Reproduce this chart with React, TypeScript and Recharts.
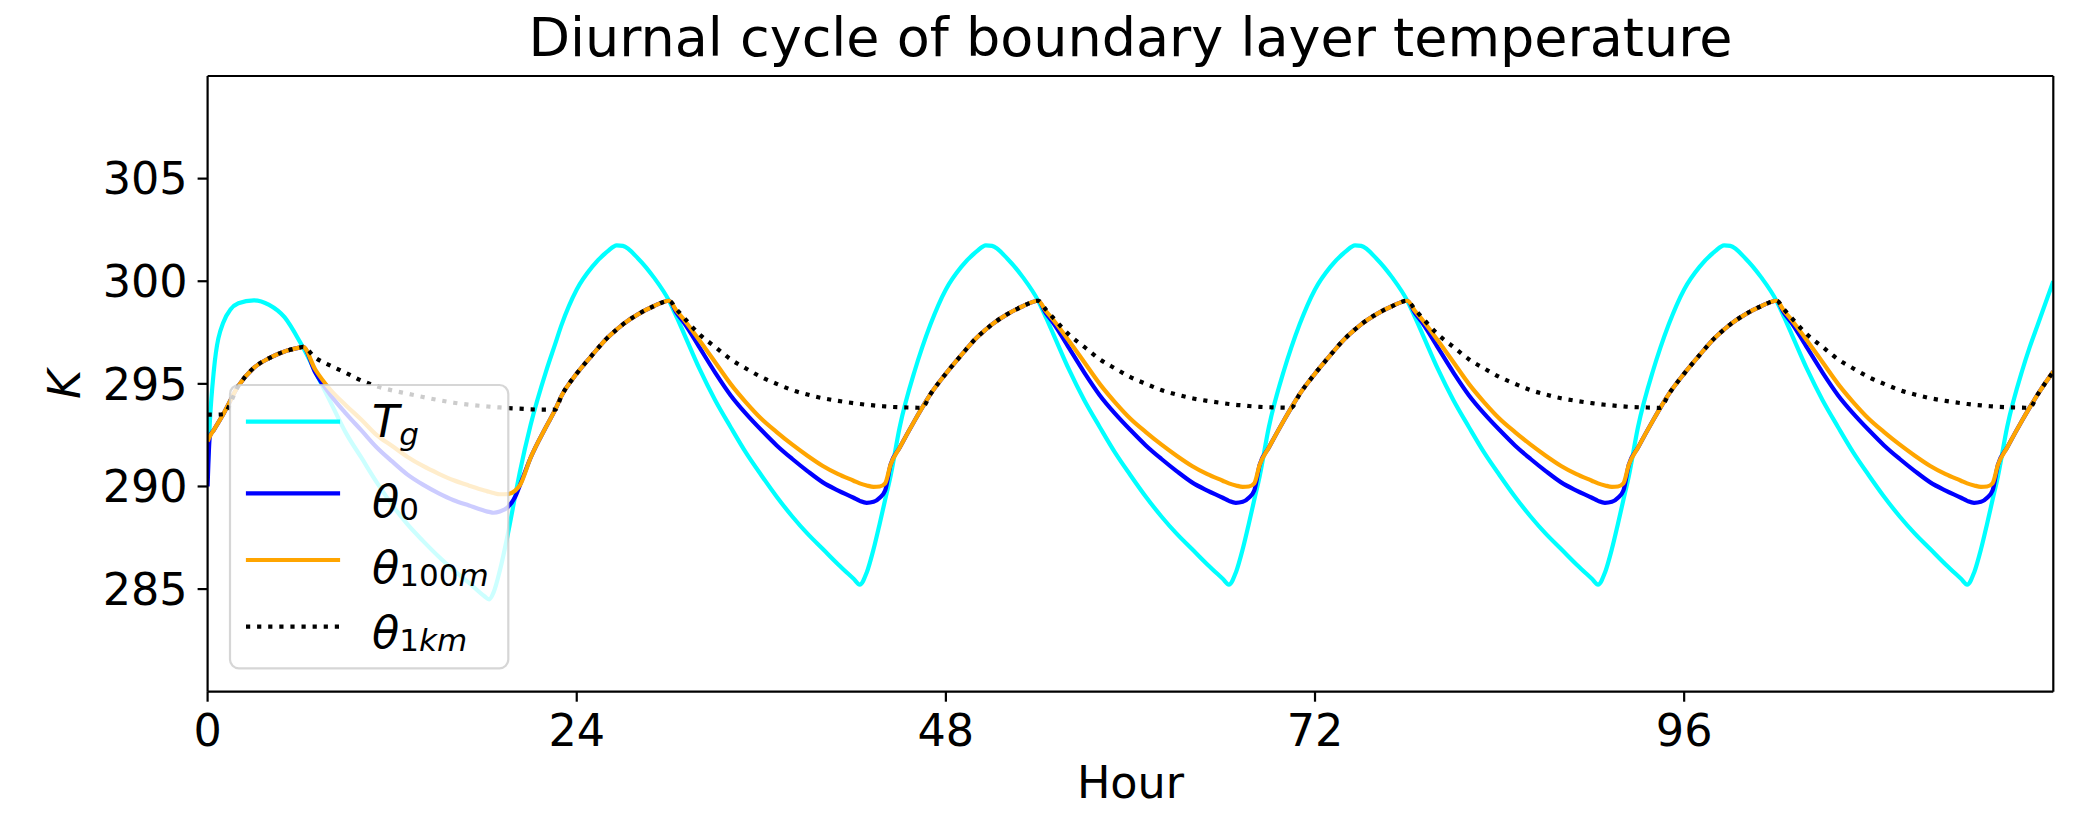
import React from 'react';
import { LineChart, Line, XAxis, YAxis, ReferenceLine } from 'recharts';

// Hour of simulation
const hours = [
  0, 0.15, 0.4, 1, 2, 3, 4, 5, 6, 6.2, 7, 8, 9, 10, 11, 12, 13, 14, 15, 16, 17, 18, 18.3, 18.6, 19, 19.5, 20, 20.3, 21, 22, 22.6, 23,
  24, 25, 26, 26.6, 27, 28, 29, 30, 30.5, 31, 32, 33, 34, 35, 36, 37, 38, 39, 40, 41, 42, 42.4, 42.85, 43.3, 43.7, 44.05, 44.4, 45, 46, 46.45, 47,
  48, 49, 50, 50.6, 51, 52, 53, 54, 54.5, 55, 56, 57, 58, 59, 60, 61, 62, 63, 64, 65, 66, 66.4, 66.85, 67.3, 67.7, 68.05, 68.4, 69, 70, 70.45, 71,
  72, 73, 74, 74.6, 75, 76, 77, 78, 78.5, 79, 80, 81, 82, 83, 84, 85, 86, 87, 88, 89, 90, 90.4, 90.85, 91.3, 91.7, 92.05, 92.4, 93, 94, 94.45, 95,
  96, 97, 98, 98.6, 99, 100, 101, 102, 102.5, 103, 104, 105, 106, 107, 108, 109, 110, 111, 112, 113, 114, 114.4, 114.85, 115.3, 115.7, 116.05, 116.4, 117, 118, 118.45, 119,
  120,
];

// Ground temperature T_g (K)
const tg = [
  290.8, 293.2, 295.6, 297.95, 298.93, 299.07, 298.85, 298.25, 297.05, 296.78, 295.6, 294.1, 292.6, 291.4, 290.2, 289.1, 288.15, 287.35, 286.6, 285.92, 285.3, 284.65, 284.5, 284.85, 285.9, 287.6, 289.55, 290.7, 293.0, 295.6, 296.95, 297.85,
  299.6, 300.7, 301.45, 301.75, 301.72, 301.1, 300.2, 299.05, 298.25, 297.4, 295.7, 294.2, 292.9, 291.65, 290.55, 289.5, 288.55, 287.7, 286.95, 286.2, 285.5, 285.22, 285.8, 286.95, 288.2, 289.35, 290.5, 292.9, 295.7, 296.75, 297.9,
  299.6, 300.7, 301.45, 301.75, 301.72, 301.1, 300.2, 299.05, 298.25, 297.4, 295.7, 294.2, 292.9, 291.65, 290.55, 289.5, 288.55, 287.7, 286.95, 286.2, 285.5, 285.22, 285.8, 286.95, 288.2, 289.35, 290.5, 292.9, 295.7, 296.75, 297.9,
  299.6, 300.7, 301.45, 301.75, 301.72, 301.1, 300.2, 299.05, 298.25, 297.4, 295.7, 294.2, 292.9, 291.65, 290.55, 289.5, 288.55, 287.7, 286.95, 286.2, 285.5, 285.22, 285.8, 286.95, 288.2, 289.35, 290.5, 292.9, 295.7, 296.75, 297.9,
  299.6, 300.7, 301.45, 301.75, 301.72, 301.1, 300.2, 299.05, 298.25, 297.4, 295.7, 294.2, 292.9, 291.65, 290.55, 289.5, 288.55, 287.7, 286.95, 286.2, 285.5, 285.22, 285.8, 286.95, 288.2, 289.35, 290.5, 292.9, 295.7, 296.75, 297.9,
  300.0,
];

// Surface potential temperature theta_0 (K)
const theta0 = [
  290.0, 292.45, 292.75, 293.5, 294.9, 295.78, 296.25, 296.58, 296.77, 296.8, 295.55, 294.45, 293.55, 292.73, 291.9, 291.22, 290.58, 290.09, 289.68, 289.33, 289.07, 288.82, 288.76, 288.72, 288.78, 288.98, 289.5, 290.05, 291.4, 292.9, 293.74, 294.4,
  295.5, 296.4, 297.25, 297.65, 297.9, 298.4, 298.78, 299.05, 298.45, 297.95, 296.75, 295.55, 294.45, 293.55, 292.75, 292.0, 291.35, 290.75, 290.2, 289.8, 289.45, 289.3, 289.2, 289.25, 289.45, 289.8, 291.05, 291.9, 293.25, 293.83, 294.5,
  295.5, 296.4, 297.25, 297.65, 297.9, 298.4, 298.78, 299.05, 298.45, 297.95, 296.75, 295.55, 294.45, 293.55, 292.75, 292.0, 291.35, 290.75, 290.2, 289.8, 289.45, 289.3, 289.2, 289.25, 289.45, 289.8, 291.05, 291.9, 293.25, 293.83, 294.5,
  295.5, 296.4, 297.25, 297.65, 297.9, 298.4, 298.78, 299.05, 298.45, 297.95, 296.75, 295.55, 294.45, 293.55, 292.75, 292.0, 291.35, 290.75, 290.2, 289.8, 289.45, 289.3, 289.2, 289.25, 289.45, 289.8, 291.05, 291.9, 293.25, 293.83, 294.5,
  295.5, 296.4, 297.25, 297.65, 297.9, 298.4, 298.78, 299.05, 298.45, 297.95, 296.75, 295.55, 294.45, 293.55, 292.75, 292.0, 291.35, 290.75, 290.2, 289.8, 289.45, 289.3, 289.2, 289.25, 289.45, 289.8, 291.05, 291.9, 293.25, 293.83, 294.5,
  295.6,
];

// Potential temperature at 100 m (K)
const theta100m = [
  292.2, 292.45, 292.75, 293.5, 294.9, 295.78, 296.25, 296.58, 296.77, 296.8, 295.7, 294.7, 293.95, 293.25, 292.5, 291.97, 291.44, 291.0, 290.63, 290.3, 290.04, 289.8, 289.74, 289.68, 289.62, 289.63, 289.8, 290.05, 291.4, 292.9, 293.74, 294.4,
  295.5, 296.4, 297.25, 297.65, 297.9, 298.4, 298.78, 299.05, 298.55, 298.1, 297.1, 296.05, 295.0, 294.1, 293.3, 292.65, 292.05, 291.5, 291.0, 290.6, 290.28, 290.15, 290.05, 289.98, 290.0, 290.15, 291.05, 291.9, 293.25, 293.83, 294.5,
  295.5, 296.4, 297.25, 297.65, 297.9, 298.4, 298.78, 299.05, 298.55, 298.1, 297.1, 296.05, 295.0, 294.1, 293.3, 292.65, 292.05, 291.5, 291.0, 290.6, 290.28, 290.15, 290.05, 289.98, 290.0, 290.15, 291.05, 291.9, 293.25, 293.83, 294.5,
  295.5, 296.4, 297.25, 297.65, 297.9, 298.4, 298.78, 299.05, 298.55, 298.1, 297.1, 296.05, 295.0, 294.1, 293.3, 292.65, 292.05, 291.5, 291.0, 290.6, 290.28, 290.15, 290.05, 289.98, 290.0, 290.15, 291.05, 291.9, 293.25, 293.83, 294.5,
  295.5, 296.4, 297.25, 297.65, 297.9, 298.4, 298.78, 299.05, 298.55, 298.1, 297.1, 296.05, 295.0, 294.1, 293.3, 292.65, 292.05, 291.5, 291.0, 290.6, 290.28, 290.15, 290.05, 289.98, 290.0, 290.15, 291.05, 291.9, 293.25, 293.83, 294.5,
  295.6,
];

// Potential temperature at 1 km (K)
const theta1km = [
  293.5, 293.5, 293.5, 293.52, 294.9, 295.78, 296.25, 296.58, 296.77, 296.8, 296.28, 295.88, 295.53, 295.16, 294.88, 294.68, 294.52, 294.36, 294.21, 294.08, 293.98, 293.91, 293.89, 293.87, 293.85, 293.82, 293.8, 293.79, 293.76, 293.74, 293.74, 294.4,
  295.5, 296.4, 297.25, 297.65, 297.9, 298.4, 298.78, 299.05, 298.62, 298.2, 297.4, 296.8, 296.2, 295.75, 295.33, 295.0, 294.7, 294.48, 294.3, 294.17, 294.06, 294.02, 293.98, 293.95, 293.92, 293.9, 293.88, 293.86, 293.84, 293.83, 294.5,
  295.5, 296.4, 297.25, 297.65, 297.9, 298.4, 298.78, 299.05, 298.62, 298.2, 297.4, 296.8, 296.2, 295.75, 295.33, 295.0, 294.7, 294.48, 294.3, 294.17, 294.06, 294.02, 293.98, 293.95, 293.92, 293.9, 293.88, 293.86, 293.84, 293.83, 294.5,
  295.5, 296.4, 297.25, 297.65, 297.9, 298.4, 298.78, 299.05, 298.62, 298.2, 297.4, 296.8, 296.2, 295.75, 295.33, 295.0, 294.7, 294.48, 294.3, 294.17, 294.06, 294.02, 293.98, 293.95, 293.92, 293.9, 293.88, 293.86, 293.84, 293.83, 294.5,
  295.5, 296.4, 297.25, 297.65, 297.9, 298.4, 298.78, 299.05, 298.62, 298.2, 297.4, 296.8, 296.2, 295.75, 295.33, 295.0, 294.7, 294.48, 294.3, 294.17, 294.06, 294.02, 293.98, 293.95, 293.92, 293.9, 293.88, 293.86, 293.84, 293.83, 294.5,
  295.6,
];

const xTicks = [0, 24, 48, 72, 96];
const yTicks = [285, 290, 295, 300, 305];
const xDomain = [0, 120];
const yDomain = [280, 310];

const titleText = 'Diurnal cycle of boundary layer temperature';
const xLabelText = 'Hour';
const yLabelText = 'K';

const seriesColors = { tg: '#00ffff', t0: '#0000ff', t100: '#ffa500', t1k: '#000000' };

const data = hours.map((h, i) => ({
  h,
  tg: tg[i],
  t0: theta0[i],
  t100: theta100m[i],
  t1k: theta1km[i],
}));

const FONT = 'DejaVu Sans';
const FS = 44.5;
const SUB = 31;
const LW = 4.2;

export default function App() {
  const tickStyle = { fontSize: FS, fill: '#000', fontFamily: FONT };
  const axisStroke = { stroke: '#000', strokeWidth: 2.2 };
  return (
    <div style={{ position: 'absolute', left: 0, top: 0, width: 2085, height: 813, background: '#fff', overflow: 'hidden' }}>
      <LineChart
        width={2085}
        height={813}
        data={data}
        margin={{ top: 76, right: 31.7, bottom: 61.3, left: 27.6 }}
      >
        <XAxis
          dataKey="h"
          type="number"
          domain={xDomain}
          ticks={xTicks}
          interval={0}
          allowDataOverflow
          height={60}
          tickSize={10}
          tickMargin={13}
          tick={tickStyle}
          axisLine={axisStroke}
          tickLine={axisStroke}
        />
        <YAxis
          type="number"
          domain={yDomain}
          ticks={yTicks}
          interval={0}
          allowDataOverflow
          width={180}
          tickSize={10}
          tickMargin={10}
          tick={tickStyle}
          axisLine={axisStroke}
          tickLine={axisStroke}
        />
        <Line type="monotone" dataKey="tg" stroke={seriesColors.tg} strokeWidth={LW} dot={false} activeDot={false} isAnimationActive={false} strokeLinejoin="round" />
        <Line type="monotone" dataKey="t0" stroke={seriesColors.t0} strokeWidth={LW} dot={false} activeDot={false} isAnimationActive={false} strokeLinejoin="round" />
        <Line type="monotone" dataKey="t100" stroke={seriesColors.t100} strokeWidth={LW} dot={false} activeDot={false} isAnimationActive={false} strokeLinejoin="round" />
        <Line type="monotone" dataKey="t1k" stroke={seriesColors.t1k} strokeWidth={LW} strokeDasharray="4.2 6.9" dot={false} activeDot={false} isAnimationActive={false} />
        <ReferenceLine y={310} stroke="#000" strokeWidth={2.2} />
        <ReferenceLine x={120} stroke="#000" strokeWidth={2.2} />
      </LineChart>
      <svg
        width={2085}
        height={813}
        style={{ position: 'absolute', left: 0, top: 0, pointerEvents: 'none' }}
        fontFamily={FONT}
      >
        <text x={1130.5} y={56} textAnchor="middle" fontSize={54} fill="#000">{titleText}</text>
        <text x={1130.5} y={798} textAnchor="middle" fontSize={FS} fill="#000">{xLabelText}</text>
        <text transform="translate(80,384.5) rotate(-90)" textAnchor="middle" fontSize={FS} fontStyle="italic" fill="#000">{yLabelText}</text>
        <g>
          <rect x={230} y={385} width={278.3} height={283.3} rx={8.9} ry={8.9} fill="#ffffff" fillOpacity={0.8} stroke="#cccccc" strokeOpacity={0.8} strokeWidth={2.2} />
          <line x1={248} y1={421.7} x2={338} y2={421.7} stroke={seriesColors.tg} strokeWidth={LW} strokeLinecap="square" />
          <line x1={248} y1={493.3} x2={338} y2={493.3} stroke={seriesColors.t0} strokeWidth={LW} strokeLinecap="square" />
          <line x1={248} y1={560} x2={338} y2={560} stroke={seriesColors.t100} strokeWidth={LW} strokeLinecap="square" />
          <line x1={246} y1={626.7} x2={340} y2={626.7} stroke={seriesColors.t1k} strokeWidth={LW} strokeDasharray="4.2 6.9" />
          <text x={372} y={437} fontSize={FS} fill="#000">
            <tspan fontStyle="italic">T</tspan>
            <tspan fontSize={SUB} fontStyle="italic" dy={8}>g</tspan>
          </text>
          <text x={372} y={516.5} fontSize={FS} fill="#000">
            <tspan fontStyle="italic">θ</tspan>
            <tspan fontSize={SUB} dy={3}>0</tspan>
          </text>
          <text x={372} y={583} fontSize={FS} fill="#000">
            <tspan fontStyle="italic">θ</tspan>
            <tspan fontSize={SUB} dy={3}>100</tspan>
            <tspan fontSize={SUB} fontStyle="italic">m</tspan>
          </text>
          <text x={372} y={648} fontSize={FS} fill="#000">
            <tspan fontStyle="italic">θ</tspan>
            <tspan fontSize={SUB} dy={3}>1</tspan>
            <tspan fontSize={SUB} fontStyle="italic">km</tspan>
          </text>
        </g>
      </svg>
    </div>
  );
}
